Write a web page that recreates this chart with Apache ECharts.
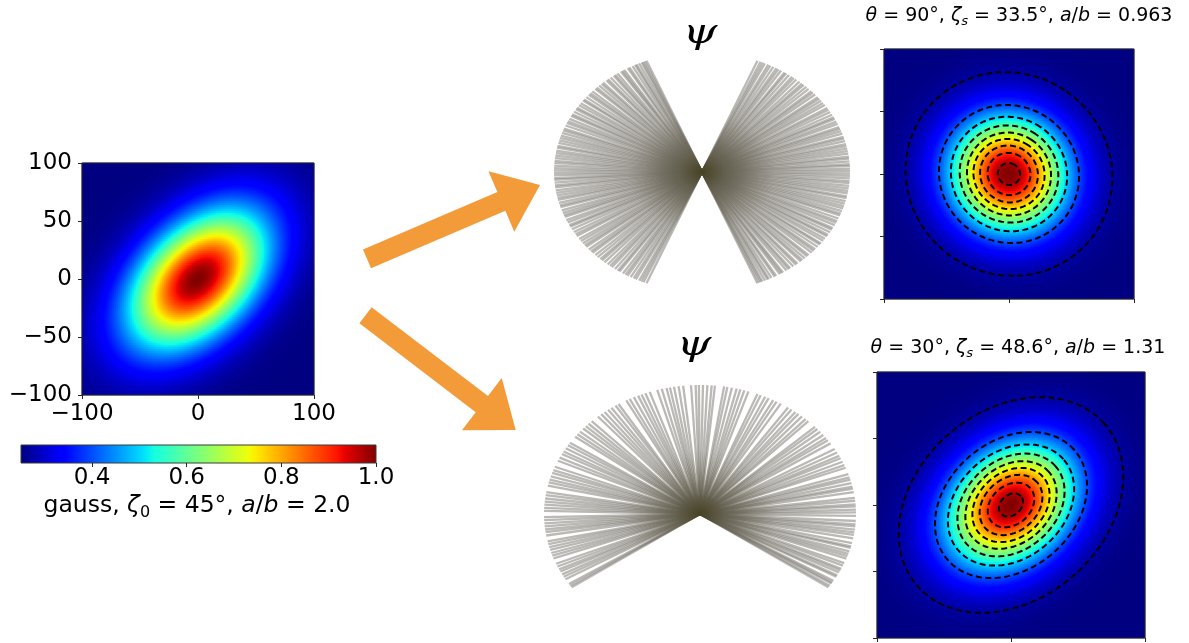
<!DOCTYPE html>
<html>
<head>
<meta charset="utf-8">
<script src="https://cdn.jsdelivr.net/npm/echarts@6/dist/echarts.min.js"></script>
<style>
  html, body { margin: 0; padding: 0; background: #ffffff; }
  #chart { width: 1189px; height: 643px; }
</style>
</head>
<body>
<div id="chart"></div>
<script>
// ---- data ---------------------------------------------------------------
// Gaussian fields: [centre x, centre y, sigma along a, sigma along b, zeta (deg, a-axis measured from +y toward +x)]
const sourceField = [0, 0, 48, 30, 45];
const fieldTheta90 = [0, 0, 30.4, 31.6, 33.5];
const fieldTheta30 = [0, 0, 35, 26.7, 48.6];
// value range of each field: [background, peak]
const sourceRange = [0.25, 1.0];
const unitRange = [0, 1];
// iso-levels of the dashed contours (fraction of the peak)
const contourLevels = [0.03, 0.2, 0.33, 0.45, 0.56, 0.66, 0.76, 0.86, 0.96];
// colour bar ticks of the source field
const colorbarTicks = [0.4, 0.6, 0.8, 1.0];
// psi orientations (deg) - lines through the centre
const psiTheta90 = [-68, -67.2, -66.5, -65.9, -64.8, -63.7, -63.1, -62.0, -60.6, -59.9, -58.3, -57.5, -56.8, -55.2, -54.1, -53.4, -51.9, -50.6, -49.8, -48.1, -47.3, -46.0, -44.7, -43.9, -42.2, -41.0, -40.1, -38.6, -37.2, -36.5, -35.0, -33.8, -32.4, -31.6, -30.1, -28.7, -27.9, -26.3, -25.0, -24.1, -22.8, -21.2, -20.3, -19.0, -17.6, -16.5, -15.3, -14.0, -12.6, -11.7, -10.2, -9.1, -7.8, -6.6, -5.3, -4.4, -3.0, -1.8, -0.7, 0.5, 1.6, 2.9, 3.7, 5.1, 6.4, 7.3, 8.8, 10.0, 11.2, 12.5, 13.4, 14.9, 16.2, 17.0, 18.6, 19.9, 21.1, 22.0, 23.6, 24.8, 26.3, 27.1, 28.5, 30.0, 31.3, 32.2, 33.9, 35.1, 36.4, 37.6, 38.5, 40.2, 41.4, 42.3, 43.9, 45.2, 46.6, 47.5, 48.8, 50.4, 51.6, 52.5, 54.0, 55.3, 56.1, 57.7, 58.9, 59.8, 61.2, 62.5, 63.4, 64.9, 65.8, 66.7, 68];
// psi directions (deg) - rays from the centre
const psiTheta30 = [-34.6, -33.8, -32.6, -32.0, -31.2, -29.1, -28.4, -27.0, -25.9, -25.1, -23.6, -22.4, -20.2, -19.1, -18.0, -16.8, -15.2, -14.5, -13.0, -10.9, -9.3, -8.2, -7.0, -5.5, -4.6, -3.1, -0.8, 0.7, 1.9, 3.4, 4.3, 5.9, 7.2, 9.8, 11.3, 12.2, 13.9, 15.4, 16.5, 18.0, 21.0, 22.3, 23.9, 25.6, 26.8, 28.5, 30.3, 33.2, 34.9, 36.1, 37.8, 39.6, 41.2, 42.5, 46.0, 47.4, 49.2, 50.9, 52.3, 54.1, 55.6, 58.8, 60.6, 62.0, 63.9, 65.3, 67.1, 68.4, 71.9, 73.5, 75.0, 76.4, 78.2, 79.9, 81.1, 84.5, 85.7, 87.3, 88.9, 90.4, 91.6, 93.3, 96.2, 97.9, 99.6, 101.1, 102.4, 104.2, 105.9, 108.8, 110.5, 112.0, 113.4, 115.1, 116.8, 118.2, 121.5, 122.8, 124.6, 126.1, 127.7, 129.3, 130.9, 134.0, 135.6, 137.1, 138.5, 140.3, 141.8, 143.2, 146.5, 147.8, 149.4, 151.0, 152.3, 154.1, 155.6, 158.5, 160.1, 161.4, 163.0, 164.6, 165.8, 167.3, 170.2, 171.6, 173.1, 174.5, 175.8, 177.3, 178.6, 181.4, 182.7, 184.2, 185.5, 186.9, 188.1, 189.6, 192.3, 193.5, 194.9, 196.2, 197.6, 198.8, 200.1, 202.7, 204.0, 205.4, 206.5, 207.9, 209.1, 210.4, 212.9, 213.8, 214.6];
// text
const sourceLabel = 'gauss, {i|ζ}{sub|0} = 45°, {i|a}/{i|b} = 2.0';
const titleTheta90 = '{i|θ} = 90°, {i|ζ}{sub|s} = 33.5°, {i|a}/{i|b} = 0.963';
const titleTheta30 = '{i|θ} = 30°, {i|ζ}{sub|s} = 48.6°, {i|a}/{i|b} = 1.31';

// ---- helpers ------------------------------------------------------------
const FONT = 'DejaVu Sans';
const CELL = 2; // heat-map cell size in pixels

// matplotlib "jet" colour map
function jet(t) {
  const seg = (pts) => {
    for (let k = 1; k < pts.length; k++) {
      if (t <= pts[k][0]) {
        const [x0, y0] = pts[k - 1], [x1, y1] = pts[k];
        return y0 + (y1 - y0) * (t - x0) / (x1 - x0);
      }
    }
    return pts[pts.length - 1][1];
  };
  const r = seg([[0, 0], [0.35, 0], [0.66, 1], [0.89, 1], [1, 0.5]]);
  const g = seg([[0, 0], [0.125, 0], [0.375, 1], [0.64, 1], [0.91, 0], [1, 0]]);
  const b = seg([[0, 0.5], [0.11, 1], [0.34, 1], [0.65, 0], [1, 0]]);
  return 'rgb(' + Math.round(r * 255) + ',' + Math.round(g * 255) + ',' + Math.round(b * 255) + ')';
}
const jetColors = [];
for (let k = 0; k <= 64; k++) jetColors.push(jet(k / 64));

function gaussValue(f, x, y) {
  const [cx, cy, sa, sb, zeta] = f;
  const phi = (90 - zeta) * Math.PI / 180;
  const dx = x - cx, dy = y - cy;
  const u = dx * Math.cos(phi) + dy * Math.sin(phi);
  const w = -dx * Math.sin(phi) + dy * Math.cos(phi);
  return Math.exp(-(u * u) / (2 * sa * sa) - (w * w) / (2 * sb * sb));
}
function contourLine(f, level) {
  const [cx, cy, sa, sb, zeta] = f;
  const phi = (90 - zeta) * Math.PI / 180;
  const k = Math.sqrt(-2 * Math.log(level));
  const pts = [];
  for (let s = 0; s <= 180; s++) {
    const t = s / 180 * 2 * Math.PI;
    const u = sa * k * Math.cos(t), w = sb * k * Math.sin(t);
    pts.push([cx + u * Math.cos(phi) - w * Math.sin(phi), cy + u * Math.sin(phi) + w * Math.cos(phi)]);
  }
  return pts;
}
const minus = (v) => String(v).replace('-', '\u2212');

// ---- layout -------------------------------------------------------------
const frame = { show: true, borderColor: '#262626', borderWidth: 1, backgroundColor: 'transparent', z: 5 };
const boxes = [
  { left: 82, top: 163, width: 232, height: 232 },   // 0 source field
  { left: 21, top: 445, width: 355, height: 18 },    // 1 colour bar
  { left: 884, top: 49, width: 250, height: 250 },   // 2 theta = 90
  { left: 877, top: 372, width: 268, height: 266 },  // 3 theta = 30
  { left: 554, top: 52, width: 296, height: 240 },   // 4 psi fan, theta = 90
  { left: 544, top: 385, width: 312, height: 296 }   // 5 psi fan, theta = 30
];
const grids = boxes.map((b, k) => (k === 0 || k === 2 || k === 3) ? Object.assign({}, b, frame) : Object.assign({}, b));
Object.assign(grids[1], {
  show: true, borderColor: '#3a3a3a', borderWidth: 1,
  backgroundColor: new echarts.graphic.LinearGradient(0, 0, 1, 0,
    jetColors.map((c, k) => ({ offset: k / 64, color: c })))
});
const cellsX = (gi) => Math.round(boxes[gi].width / CELL);
const cellsY = (gi) => Math.round(boxes[gi].height / CELL);

const hiddenCat = (gi, n) => ({ type: 'category', gridIndex: gi, data: Array.from({ length: n }, (_, i) => i), show: false, boundaryGap: true });
const tickStyle = { show: true, inside: false, length: 4, lineStyle: { color: '#262626', width: 1 } };
const valueAxis = (gi, pos, interval, labels) => ({
  type: 'value', gridIndex: gi, position: pos, min: -100, max: 100, interval: interval,
  axisLine: { show: false }, splitLine: { show: false },
  axisTick: tickStyle,
  axisLabel: labels ? { show: true, fontFamily: FONT, fontSize: 23, color: '#000', margin: pos === 'left' ? 10 : 8, formatter: minus } : { show: false }
});
const fanAxis = (gi) => ({ type: 'value', gridIndex: gi, min: -1, max: 1, show: false });

const xAxes = [
  hiddenCat(0, cellsX(0)), valueAxis(0, 'bottom', 100, true),
  {
    type: 'value', gridIndex: 1, position: 'bottom', min: sourceRange[0], max: sourceRange[1],
    axisLine: { show: false }, splitLine: { show: false },
    axisTick: Object.assign({}, tickStyle, { customValues: colorbarTicks }),
    axisLabel: { show: true, customValues: colorbarTicks, fontFamily: FONT, fontSize: 23, color: '#000', margin: 4, formatter: (v) => v.toFixed(1) }
  },
  hiddenCat(2, cellsX(2)), valueAxis(2, 'bottom', 100, false),
  hiddenCat(3, cellsX(3)), valueAxis(3, 'bottom', 100, false),
  fanAxis(4), fanAxis(5)
];
const yAxes = [
  hiddenCat(0, cellsY(0)), valueAxis(0, 'left', 50, true),
  { type: 'value', gridIndex: 1, min: 0, max: 1, show: false },
  hiddenCat(2, cellsY(2)), valueAxis(2, 'left', 50, false),
  hiddenCat(3, cellsY(3)), valueAxis(3, 'left', 50, false),
  fanAxis(4), fanAxis(5)
];

// ---- series -------------------------------------------------------------
function heatGrid(f, range, gi) {
  const nx = cellsX(gi), ny = cellsY(gi), out = [];
  for (let i = 0; i < nx; i++) {
    for (let j = 0; j < ny; j++) {
      const x = -100 + (i + 0.5) * 200 / nx, y = -100 + (j + 0.5) * 200 / ny;
      out.push([i, j, range[0] + (range[1] - range[0]) * gaussValue(f, x, y)]);
    }
  }
  return out;
}
const series = [
  { type: 'heatmap', xAxisIndex: 0, yAxisIndex: 0, data: heatGrid(sourceField, sourceRange, 0), progressive: 0, itemStyle: { borderWidth: 0 } },
  { type: 'heatmap', xAxisIndex: 3, yAxisIndex: 3, data: heatGrid(fieldTheta90, unitRange, 2), progressive: 0, itemStyle: { borderWidth: 0 } },
  { type: 'heatmap', xAxisIndex: 5, yAxisIndex: 5, data: heatGrid(fieldTheta30, unitRange, 3), progressive: 0, itemStyle: { borderWidth: 0 } }
];
const dashed = { color: '#000', width: 2, type: [6, 3.5] };
[[fieldTheta90, 4], [fieldTheta30, 6]].forEach(([f, ai]) => {
  contourLevels.forEach((lv) => {
    series.push({
      type: 'line', xAxisIndex: ai, yAxisIndex: ai, data: contourLine(f, lv),
      showSymbol: false, symbol: 'none', lineStyle: dashed, z: 4, silent: true
    });
  });
});

// psi line shading: dark olive where lines meet, grey toward the rim
const C_CENTRE = 'rgba(70,66,36,0.9)';
const C_NEAR = 'rgba(100,96,80,0.65)';
const C_MID = 'rgba(128,124,116,0.55)';
const C_END = 'rgba(132,128,122,0.55)';
function fanSeries(ai, angles, throughCentre) {
  return {
    type: 'custom', xAxisIndex: ai, yAxisIndex: ai, silent: true, z: 3,
    data: angles.map((a) => [a]),
    renderItem: (params, api) => {
      const a = api.value(0) * Math.PI / 180;
      const c = Math.cos(a), s = Math.sin(a);
      const p1 = api.coord([c, s]);
      const p0 = throughCentre ? api.coord([-c, -s]) : api.coord([0, 0]);
      const stops = throughCentre
        ? [{ offset: 0, color: C_END }, { offset: 0.25, color: C_MID }, { offset: 0.42, color: C_NEAR },
           { offset: 0.5, color: C_CENTRE }, { offset: 0.58, color: C_NEAR }, { offset: 0.75, color: C_MID }, { offset: 1, color: C_END }]
        : [{ offset: 0, color: C_CENTRE }, { offset: 0.16, color: C_NEAR }, { offset: 0.5, color: C_MID }, { offset: 1, color: C_END }];
      return {
        type: 'line',
        shape: { x1: p0[0], y1: p0[1], x2: p1[0], y2: p1[1] },
        style: { stroke: new echarts.graphic.LinearGradient(p0[0], p0[1], p1[0], p1[1], stops, true), lineWidth: 2.3 }
      };
    }
  };
}
series.push(fanSeries(7, psiTheta90, true));
series.push(fanSeries(8, psiTheta30, false));

// ---- arrows and text ----------------------------------------------------
function arrowPoints(tail, tip, shaftW, headW, headL) {
  const dx = tip[0] - tail[0], dy = tip[1] - tail[1];
  const L = Math.hypot(dx, dy), ux = dx / L, uy = dy / L, nx = -uy, ny = ux;
  const bx = tip[0] - ux * headL, by = tip[1] - uy * headL;
  return [
    [tail[0] + nx * shaftW / 2, tail[1] + ny * shaftW / 2],
    [bx + nx * shaftW / 2, by + ny * shaftW / 2],
    [bx + nx * headW / 2, by + ny * headW / 2],
    tip,
    [bx - nx * headW / 2, by - ny * headW / 2],
    [bx - nx * shaftW / 2, by - ny * shaftW / 2],
    [tail[0] - nx * shaftW / 2, tail[1] - ny * shaftW / 2]
  ];
}
const ORANGE = '#f29b38';
function richMath(size, subItalic) {
  return {
    i: { fontFamily: FONT, fontStyle: 'italic', fontSize: size, lineHeight: size + 6 },
    sub: { fontFamily: FONT, fontStyle: subItalic ? 'italic' : 'normal', fontSize: Math.round(size * 0.68), lineHeight: Math.round(size * 0.6), verticalAlign: 'bottom' }
  };
}
const textEl = (x, y, text, size, subItalic) => ({
  type: 'text', x: x, y: y, z: 20,
  style: {
    text: text, fontFamily: FONT, fontSize: size, lineHeight: size + 6, fill: '#000',
    align: 'center', verticalAlign: 'middle', rich: richMath(size, subItalic)
  }
});
const psiEl = (x, y) => ({
  type: 'text', x: x, y: y, z: 20, scaleX: 1.3,
  style: { text: 'ψ', fontFamily: 'DejaVu Serif', fontStyle: 'italic', fontSize: 34, fill: '#000', align: 'center', verticalAlign: 'middle' }
});

const graphic = [
  { type: 'polygon', shape: { points: arrowPoints([367, 258.8], [540, 185], 20.4, 65.8, 42) }, style: { fill: ORANGE }, z: 1 },
  { type: 'polygon', shape: { points: arrowPoints([365.5, 315.3], [515.7, 430], 20.2, 65.5, 42.6) }, style: { fill: ORANGE }, z: 1 },
  textEl(197, 506, sourceLabel, 23.5, false),
  textEl(1019, 16, titleTheta90, 19, true),
  textEl(1018, 348, titleTheta30, 19, true),
  psiEl(700, 34),
  psiEl(694, 346)
];

const chart = echarts.init(document.getElementById('chart'), null, { renderer: 'canvas' });
chart.setOption({
  animation: false,
  backgroundColor: '#ffffff',
  grid: grids,
  xAxis: xAxes,
  yAxis: yAxes,
  visualMap: [
    { type: 'continuous', show: false, seriesIndex: 0, min: sourceRange[0], max: sourceRange[1], inRange: { color: jetColors } },
    { type: 'continuous', show: false, seriesIndex: 1, min: unitRange[0], max: unitRange[1], inRange: { color: jetColors } },
    { type: 'continuous', show: false, seriesIndex: 2, min: unitRange[0], max: unitRange[1], inRange: { color: jetColors } }
  ],
  series: series,
  graphic: graphic
});
</script>
</body>
</html>
